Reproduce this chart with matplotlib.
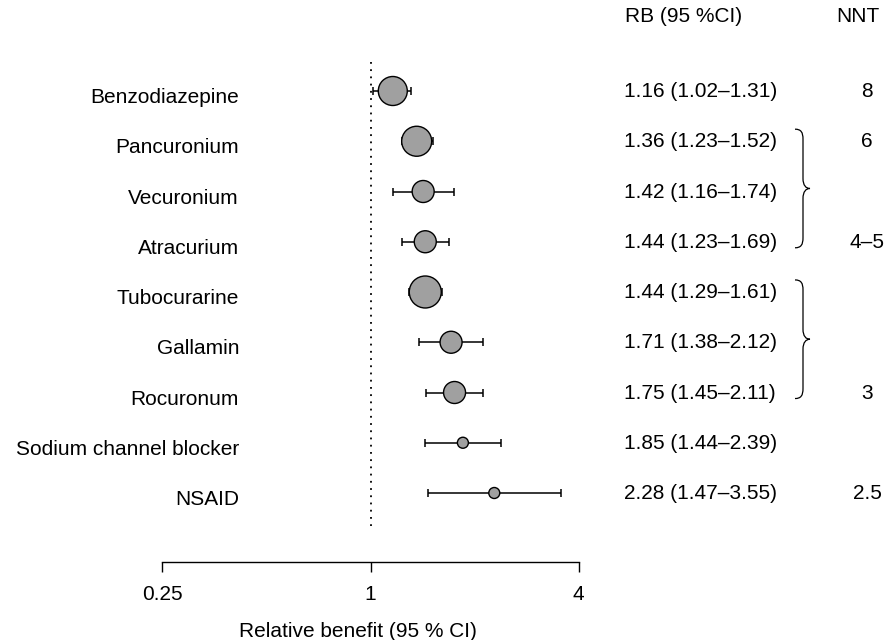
import matplotlib
matplotlib.use("Agg")
import matplotlib.pyplot as plt
import matplotlib.transforms as mtransforms
from matplotlib.path import Path
from matplotlib.patches import PathPatch
from matplotlib.ticker import FixedLocator, FixedFormatter, NullLocator
import numpy as np

plt.rcParams['font.family'] = ['Liberation Sans', 'DejaVu Sans']

# ---- data -----------------------------------------------------------------
treatments = ["Benzodiazepine", "Pancuronium", "Vecuronium", "Atracurium",
              "Tubocurarine", "Gallamin", "Rocuronum",
              "Sodium channel blocker", "NSAID"]
rb = [1.16, 1.36, 1.42, 1.44, 1.44, 1.71, 1.75, 1.85, 2.28]
ci_low = [1.02, 1.23, 1.16, 1.23, 1.29, 1.38, 1.45, 1.44, 1.47]
ci_high = [1.31, 1.52, 1.74, 1.69, 1.61, 2.12, 2.11, 2.39, 3.55]
weights = [29, 30, 22, 22, 32, 22, 22, 11, 11]   # relative weight -> symbol size
nnt = ["8", "6", "", "4\u20135", "", "", "3", "", "2.5"]
brace_groups = [(1, 3), (4, 6)]                  # rows bracketed together
tick_values = [0.25, 1, 4]
tick_labels = ["0.25", "1", "4"]

# ---- figure ---------------------------------------------------------------
W, H = 893, 640
fig = plt.figure(figsize=(W / 100, H / 100), dpi=100)
fig.patch.set_facecolor("white")

x0, x1 = 162.3, 578.7          # horizontal extent of the axis (pixels)
ybot, ytop = 562, 40           # vertical extent of the plotting area (pixels)
row0, drow = 91, 50.25         # pixel position of first row and row spacing

ax = fig.add_axes([x0 / W, (H - ybot) / H, (x1 - x0) / W, (ybot - ytop) / H])
ax.set_xscale("log")
ax.set_xlim(tick_values[0], tick_values[-1])
ax.set_ylim((ybot - row0) / drow, (ytop - row0) / drow)

rows = np.arange(len(treatments))
rb_a = np.array(rb)
lo = rb_a - np.array(ci_low)
hi = np.array(ci_high) - rb_a

# reference line at no effect
ax.plot([1, 1], [(62 - row0) / drow, (526 - row0) / drow], color="black",
        lw=1.3, ls=(0, (1, 3)), zorder=0, clip_on=False)

# confidence intervals
ax.errorbar(rb_a, rows, xerr=[lo, hi], fmt="none", ecolor="black",
            elinewidth=1.1, capsize=3.2, capthick=1.1, zorder=1)

# point estimates
sizes = (np.array(weights) * 0.72) ** 2
ax.scatter(rb_a, rows, s=sizes, c="#a0a0a0", edgecolors="black",
           linewidths=1.0, zorder=2, clip_on=False)

# axis styling
for side in ("left", "top", "right"):
    ax.spines[side].set_visible(False)
ax.spines["bottom"].set_bounds(tick_values[0], tick_values[-1])
ax.spines["bottom"].set_linewidth(1.0)
ax.xaxis.set_major_locator(FixedLocator(tick_values))
ax.xaxis.set_major_formatter(FixedFormatter(tick_labels))
ax.xaxis.set_minor_locator(NullLocator())
ax.tick_params(axis="x", direction="out", length=7.2, width=1.0, pad=9,
               labelsize=15)
ax.set_yticks([])
ax.patch.set_alpha(0)

# ---- text columns ---------------------------------------------------------
px = mtransforms.Affine2D().scale(1.0 / W, 1.0 / H) + fig.transFigure
row_tr = mtransforms.blended_transform_factory(px, ax.transData)


def shifted(dy_px):
    return row_tr + mtransforms.ScaledTranslation(0, -dy_px / 100,
                                                  fig.dpi_scale_trans)


fs = 15
for i, name in enumerate(treatments):
    ax.text(239, i, name, transform=shifted(12), ha="right", va="baseline",
            fontsize=fs, clip_on=False)
    ax.text(624, i, f"{rb[i]:.2f} ({ci_low[i]:.2f}\u2013{ci_high[i]:.2f})",
            transform=shifted(6), ha="left", va="baseline", fontsize=fs,
            clip_on=False)
    if nnt[i]:
        ax.text(867, i, nnt[i], transform=shifted(6), ha="center",
                va="baseline", fontsize=fs, clip_on=False)

fig.text(625 / W, (H - 22.5) / H, "RB (95 %CI)", ha="left", va="baseline",
         fontsize=fs)
fig.text(858 / W, (H - 22.5) / H, "NNT", ha="center", va="baseline",
         fontsize=fs)
fig.text(358 / W, (H - 637) / H, "Relative benefit (95 % CI)", ha="center",
         va="baseline", fontsize=fs)

# ---- curly braces grouping rows -------------------------------------------
for first, last in brace_groups:
    top = first - 0.24
    bot = last + 0.12
    mid = (top + bot) / 2
    xl, xv, xt = 795, 803, 810
    h = 0.2
    verts = [
        (xl, top),
        (xv - 2, top), (xv, top + 0.06), (xv, top + h),
        (xv, mid - h),
        (xv, mid - 0.06), (xv + 3, mid), (xt, mid),
        (xv + 3, mid), (xv, mid + 0.06), (xv, mid + h),
        (xv, bot - h),
        (xv, bot - 0.06), (xv - 2, bot), (xl, bot),
    ]
    codes = [Path.MOVETO,
             Path.CURVE4, Path.CURVE4, Path.CURVE4,
             Path.LINETO,
             Path.CURVE4, Path.CURVE4, Path.CURVE4,
             Path.CURVE4, Path.CURVE4, Path.CURVE4,
             Path.LINETO,
             Path.CURVE4, Path.CURVE4, Path.CURVE4]
    ax.add_patch(PathPatch(Path(verts, codes), transform=row_tr,
                           facecolor="none", edgecolor="black", lw=0.9,
                           clip_on=False))

fig.savefig("out.png", dpi=100, facecolor="white")
